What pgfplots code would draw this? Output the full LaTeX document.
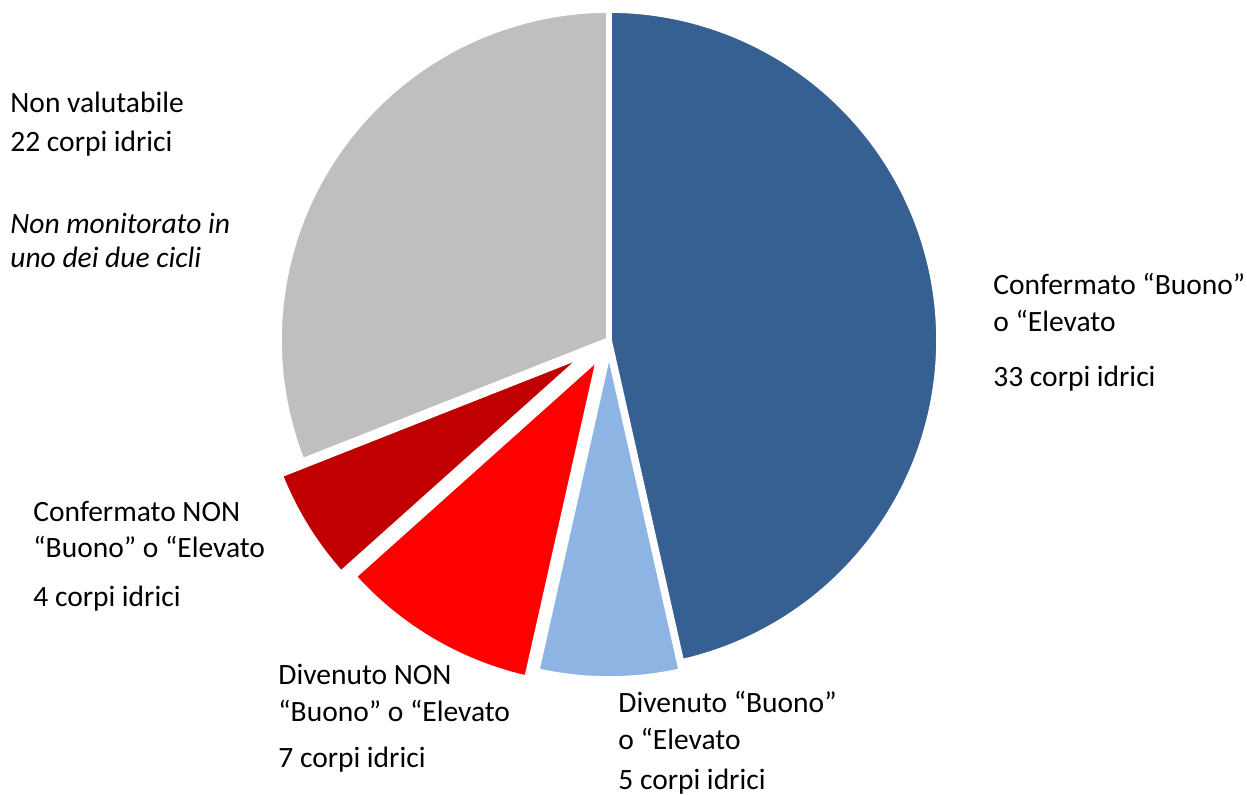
\documentclass[border=0pt]{standalone}
\usepackage{pgfplots}
\pgfplotsset{compat=1.18}
\usepackage{fontspec}
\setmainfont{Carlito}
\definecolor{cBlue}{HTML}{376092}
\definecolor{cLBlue}{HTML}{8EB4E3}
\definecolor{cRed}{HTML}{FF0000}
\definecolor{cDRed}{HTML}{C00000}
\definecolor{cGray}{HTML}{BFBFBF}
\begin{document}
\begin{tikzpicture}
% data: number of water bodies per category
\def\vA{33}\def\vB{5}\def\vC{7}\def\vD{4}\def\vE{22}
\def\cx{609}\def\cy{-340}\def\R{330}
\pgfmathsetmacro\tot{\vA+\vB+\vC+\vD+\vE}
\pgfmathsetmacro\aA{90}
\pgfmathsetmacro\aB{\aA-360*\vA/\tot}
\pgfmathsetmacro\aC{\aB-360*\vB/\tot}
\pgfmathsetmacro\aD{\aC-360*\vC/\tot}
\pgfmathsetmacro\aE{\aD-360*\vD/\tot}
\pgfmathsetmacro\aF{\aE-360*\vE/\tot}
% explosion offsets
\pgfmathsetmacro\dxB{9*cos((\aB+\aC)/2)}\pgfmathsetmacro\dyB{9*sin((\aB+\aC)/2)}
\pgfmathsetmacro\dxC{19*cos((\aC+\aD)/2)}\pgfmathsetmacro\dyC{19*sin((\aC+\aD)/2)}
\pgfmathsetmacro\dxD{26*cos((\aD+\aE)/2)}\pgfmathsetmacro\dyD{26*sin((\aD+\aE)/2)}
\begin{axis}[width=623.5pt,height=397pt,scale only axis,
  xmin=0,xmax=1247,ymin=-794,ymax=0,hide axis,clip=false]
\addplot[fill=cBlue,draw=white,line width=2.8pt,line join=round,domain=\aB:\aA,samples=120]
  ({\cx+\R*cos(x)},{\cy+\R*sin(x)}) -- (axis cs:\cx,\cy) -- cycle;
\addplot[fill=cLBlue,draw=white,line width=2.8pt,line join=round,domain=\aC:\aB,samples=40]
  ({\cx+\dxB+\R*cos(x)},{\cy+\dyB+\R*sin(x)}) -- (axis cs:\cx+\dxB,\cy+\dyB) -- cycle;
\addplot[fill=cRed,draw=white,line width=2.8pt,line join=round,domain=\aD:\aC,samples=40]
  ({\cx+\dxC+\R*cos(x)},{\cy+\dyC+\R*sin(x)}) -- (axis cs:\cx+\dxC,\cy+\dyC) -- cycle;
\addplot[fill=cDRed,draw=white,line width=2.8pt,line join=round,domain=\aE:\aD,samples=40]
  ({\cx+\dxD+\R*cos(x)},{\cy+\dyD+\R*sin(x)}) -- (axis cs:\cx+\dxD,\cy+\dyD) -- cycle;
\addplot[fill=cGray,draw=white,line width=2.8pt,line join=round,domain=\aF:\aE,samples=100]
  ({\cx+\R*cos(x)},{\cy+\R*sin(x)}) -- (axis cs:\cx,\cy) -- cycle;
% labels
\tikzset{lab/.style={anchor=base west,inner sep=0pt,font=\fontsize{14.75}{18}\selectfont}}
\node[lab] at (axis cs:10,-112.5) {Non valutabile};
\node[lab] at (axis cs:10,-152) {22 corpi idrici};
\node[lab,font=\fontsize{14.75}{18}\selectfont\itshape] at (axis cs:10,-233.5) {Non monitorato in};
\node[lab,font=\fontsize{14.75}{18}\selectfont\itshape] at (axis cs:10,-268) {uno dei due cicli};
\node[lab] at (axis cs:993,-294.5) {Confermato “Buono”};
\node[lab] at (axis cs:993,-331.5) {o “Elevato};
\node[lab] at (axis cs:993,-386.5) {33 corpi idrici};
\node[lab] at (axis cs:33,-521.5) {Confermato NON};
\node[lab] at (axis cs:33,-557.5) {“Buono” o “Elevato};
\node[lab] at (axis cs:33,-606.5) {4 corpi idrici};
\node[lab] at (axis cs:278,-684.5) {Divenuto NON};
\node[lab] at (axis cs:278,-721.5) {“Buono” o “Elevato};
\node[lab] at (axis cs:278,-767.5) {7 corpi idrici};
\node[lab] at (axis cs:618,-712.5) {Divenuto “Buono”};
\node[lab] at (axis cs:618,-749.5) {o “Elevato};
\node[lab] at (axis cs:618,-789.5) {5 corpi idrici};
\end{axis}
\pgfresetboundingbox
\path[use as bounding box] (current axis.south west) rectangle (current axis.north east);
\end{tikzpicture}
\end{document}
